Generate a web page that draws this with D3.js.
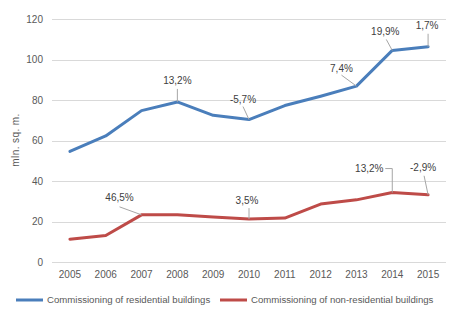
<!DOCTYPE html>
<html>
<head>
<meta charset="utf-8">
<script src="https://cdn.jsdelivr.net/npm/d3@7"></script>
<style>
  html, body { margin: 0; padding: 0; background: #fff; }
  svg text { font-family: "Liberation Sans", Arial, sans-serif; }
</style>
</head>
<body>
<svg id="chart" width="454" height="321"></svg>
<script>
// Commissioning of buildings, mln. sq. m.
const years = ["2005","2006","2007","2008","2009","2010","2011","2012","2013","2014","2015"];
const residential = [54.7, 62.3, 74.8, 79.1, 72.5, 70.4, 77.3, 81.9, 86.9, 104.5, 106.3];
const nonResidential = [11.4, 13.2, 23.4, 23.4, 22.3, 21.3, 21.8, 28.7, 30.8, 34.4, 33.3];
const yTicks = [0, 20, 40, 60, 80, 100, 120];

// growth labels: year index and text
const residentialLabels = [
  { i: 3, text: "13,2%" }, { i: 5, text: "-5,7%" }, { i: 8, text: "7,4%" },
  { i: 9, text: "19,9%" }, { i: 10, text: "1,7%" }
];
const nonResidentialLabels = [
  { i: 2, text: "46,5%" }, { i: 5, text: "3,5%" }, { i: 9, text: "13,2%" }, { i: 10, text: "-2,9%" }
];

const seriesNames = ["Commissioning of residential buildings", "Commissioning of non-residential buildings"];
const colors = ["#4A7EBB", "#BE4B48"];

// label placement relative to its point (label centre dx, dy; leader start lx, ly)
const resLayout = [
  { dx: 0, dy: -21, lx: 0, ly: -13 },
  { dx: -6, dy: -20, lx: -6, ly: -13 },
  { dx: -15, dy: -18, lx: -15, ly: -11 },
  { dx: -7, dy: -19, lx: -6, ly: -11 },
  { dx: -1, dy: -21, lx: 0, ly: -13 }
];
const nonResLayout = [
  { dx: -22, dy: -17, lx: -22, ly: -8 },
  { dx: -2, dy: -19, lx: 0, ly: -11 },
  { dx: -23, dy: -24, elbow: true },
  { dx: -5, dy: -27, lx: -4, ly: -19 }
];

const svg = d3.select("#chart");
const plotLeft = 52, plotRight = 446, plotTop = 19, plotBottom = 262.3;

const x = d3.scaleBand().domain(years).range([plotLeft, plotRight]);
const y = d3.scaleLinear().domain([0, 120]).range([plotBottom, plotTop]);
const cx = d => x(d) + x.bandwidth() / 2;

// grid lines
svg.append("g").selectAll("line").data(yTicks).join("line")
  .attr("x1", plotLeft).attr("x2", plotRight)
  .attr("y1", d => Math.round(y(d)) + 0.5).attr("y2", d => Math.round(y(d)) + 0.5)
  .attr("stroke", "#D9D9D9").attr("stroke-width", 1);

// y axis labels
const yAxis = d3.axisLeft(y).tickValues(yTicks).tickSize(0).tickPadding(9);
const gy = svg.append("g").attr("transform", `translate(${plotLeft},0)`).call(yAxis);
gy.select(".domain").remove();
gy.selectAll("text").attr("fill", "#595959").style("font-size", "10px");

// x axis labels
const xAxis = d3.axisBottom(x).tickSize(0).tickPadding(9);
const gx = svg.append("g").attr("transform", `translate(0,${plotBottom})`).call(xAxis);
gx.select(".domain").remove();
gx.selectAll("text").attr("fill", "#595959").style("font-size", "10px");

// y axis title
svg.append("text")
  .attr("transform", "translate(19,140) rotate(-90)")
  .attr("text-anchor", "middle")
  .attr("fill", "#595959").style("font-size", "10px")
  .attr("letter-spacing", "0.4")
  .text("mln. sq. m.");

const line = d3.line().x((d, i) => cx(years[i])).y(d => y(d));

[residential, nonResidential].forEach((vals, k) => {
  svg.append("path").datum(vals)
    .attr("d", line)
    .attr("fill", "none")
    .attr("stroke", colors[k])
    .attr("stroke-width", 3)
    .attr("stroke-linejoin", "round")
    .attr("stroke-linecap", "round");
});

function annotate(vals, labels, layout) {
  const g = svg.append("g");
  labels.forEach((lab, j) => {
    const L = layout[j];
    const px = cx(years[lab.i]), py = y(vals[lab.i]);
    if (L.elbow) {
      const tx = px + L.dx, ty = py + L.dy;
      g.append("path")
        .attr("d", `M${tx + 16},${ty} H${px} V${py}`)
        .attr("fill", "none").attr("stroke", "#A6A6A6").attr("stroke-width", 1);
    } else {
      g.append("line")
        .attr("x1", px + L.lx).attr("y1", py + L.ly)
        .attr("x2", px).attr("y2", py)
        .attr("stroke", "#A6A6A6").attr("stroke-width", 1);
    }
    g.append("text")
      .attr("x", px + L.dx).attr("y", py + L.dy)
      .attr("dy", "0.35em")
      .attr("text-anchor", "middle")
      .attr("fill", "#404040").style("font-size", "10px")
      .text(lab.text);
  });
}
annotate(residential, residentialLabels, resLayout);
annotate(nonResidential, nonResidentialLabels, nonResLayout);

// legend
const legendItems = [
  { x0: 16, x1: 43, tx: 47 },
  { x0: 220, x1: 247, tx: 251 }
];
legendItems.forEach((it, k) => {
  svg.append("line")
    .attr("x1", it.x0).attr("x2", it.x1).attr("y1", 300).attr("y2", 300)
    .attr("stroke", colors[k]).attr("stroke-width", 3);
  svg.append("text")
    .attr("x", it.tx).attr("y", 300).attr("dy", "0.35em")
    .attr("fill", "#595959").style("font-size", "9.6px")
    .text(seriesNames[k]);
});
</script>
</body>
</html>
